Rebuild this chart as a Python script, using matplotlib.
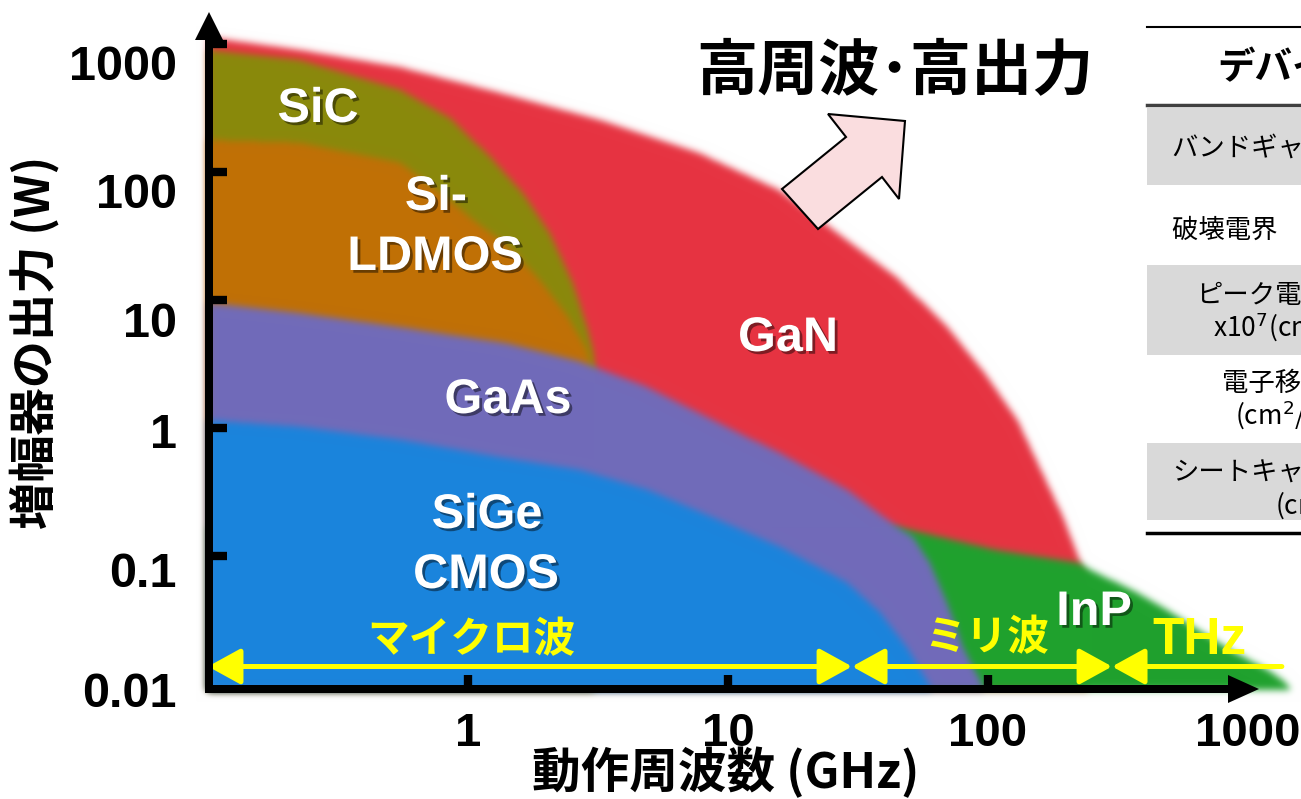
import numpy as np
import matplotlib
matplotlib.use("Agg")
import matplotlib.pyplot as plt
from matplotlib.patches import Polygon, Rectangle
from matplotlib.lines import Line2D
import matplotlib.patheffects as pe

# ---------------------------------------------------------------
# Upper boundary of each device technology (frequency GHz, power W)
# ---------------------------------------------------------------
gan_freq = [0.1, 0.226, 0.548, 1.33, 3.22, 7.8, 15.8, 24.7, 44.7, 69.6, 97, 130, 160, 195, 225, 243]
gan_power = [1130, 900, 660, 415, 255, 140, 72, 37, 15, 6.2, 2.7, 1.15, 0.47, 0.2, 0.093, 0.055]

inp_freq = [40, 44.7, 108, 226, 247, 361, 488, 654, 876, 1183, 1364, 1450]
inp_power = [0.17, 0.169, 0.111, 0.088, 0.078, 0.054, 0.038, 0.026, 0.018, 0.013, 0.0107, 0.0093]

sic_freq = [0.1, 0.226, 0.548, 0.853, 1.22, 1.63, 2.07, 2.53, 2.87, 3.03, 3.1]
sic_power = [900, 750, 440, 264, 131, 68, 33, 13.6, 6.2, 4.0, 2.5]

ldmos_freq = [0.1, 0.226, 0.548, 0.78, 1.05, 1.41, 1.89, 2.4, 2.87, 3.0]
ldmos_power = [178, 169, 118, 70, 42, 27, 14.3, 7.6, 4.1, 2.8]

gaas_freq = [0.1, 0.226, 0.548, 0.78, 1.41, 2.7, 4.88, 8.76, 15.8, 28.7, 44.7, 51.5, 59.8, 69.6, 80.1, 93.1, 97]
gaas_power = [9.5, 7.9, 6.15, 5.5, 4.6, 3.3, 2.1, 1.15, 0.64, 0.33, 0.169, 0.141, 0.088, 0.043, 0.0195, 0.0107, 0.009]

sige_freq = [0.1, 0.226, 0.548, 1.33, 2.7, 4.88, 8.76, 15.8, 28.7, 38.5, 48.6, 58.1, 61]
sige_power = [1.15, 1.02, 0.81, 0.59, 0.47, 0.33, 0.2, 0.118, 0.062, 0.036, 0.0195, 0.0107, 0.009]

floor_power = 0.009

# Frequency bands along the bottom
band_edges = [0.1, 30, 300, 1350]
band_names = ["マイクロ波", "ミリ波", "THz"]
band_level = 0.0137

# Axis ticks
y_tick_values = [0.01, 0.1, 1, 10, 100, 1000]
y_tick_labels = ["0.01", "0.1", "1", "10", "100", "1000"]
x_tick_values = [1, 10, 100, 1000]
x_tick_labels = ["1", "10", "100", "1000"]

# Table (cut at the right edge)
table_header = "デバイス材料"
table_rows = ["バンドギャップ (eV)", "破壊電界　(MV/cm)", "ピーク電子速度", "x10$^7$(cm/s)",
              "電子移動度", "(cm$^2$/Vs)", "シートキャリア密度", "(cm$^{-2}$)"]

# ---------------------------------------------------------------
W, H = 1301, 799
CJK = ["Noto Sans CJK JP", "DejaVu Sans"]
LAT = ["Liberation Sans", "DejaVu Sans"]

# log10 limits so that one decade is 260 px horizontally, 128 px vertically
LX0, LX1 = -468 / 260, (W - 468) / 260
LY0, LY1 = (428 - H) / 128, 428 / 128


def fp(px, py):
    return (px / W, 1 - py / H)


fig = plt.figure(figsize=(W / 100, H / 100), dpi=100)
fig.patch.set_facecolor("white")

# ---- soft-edged coloured regions, rendered on a log-space grid ----
ax_img = fig.add_axes([0, 0, 1, 1], zorder=0)
ax_img.set_xlim(LX0, LX1)
ax_img.set_ylim(LY0, LY1)
ax_img.axis("off")

xs = LX0 + (np.arange(W) + 0.5) / W * (LX1 - LX0)
ys = LY0 + (np.arange(H) + 0.5) / H * (LY1 - LY0)
X, Y = np.meshgrid(xs, ys)


def blur(a, sigma):
    r = int(3 * sigma) + 1
    k = np.exp(-0.5 * (np.arange(-r, r + 1) / sigma) ** 2)
    k /= k.sum()
    a = np.apply_along_axis(lambda v: np.convolve(v, k, mode="same"), 1, a)
    a = np.apply_along_axis(lambda v: np.convolve(v, k, mode="same"), 0, a)
    return a


layers = [
    (gan_freq, gan_power, (230, 52, 66)),
    (inp_freq, inp_power, (32, 161, 46)),
    (sic_freq, sic_power, (138, 137, 12)),
    (ldmos_freq, ldmos_power, (192, 112, 6)),
    (gaas_freq, gaas_power, (113, 107, 185)),
    (sige_freq, sige_power, (27, 132, 220)),
]

canvas = np.ones((H, W, 3))
for fq, pw, col in layers:
    lf = np.log10(fq)
    lp = np.log10(pw)
    top = np.interp(X, lf, lp)
    mask = ((X >= -1.0) & (X <= lf[-1]) & (Y <= top) & (Y >= np.log10(floor_power))).astype(float)
    a = blur(mask, 3.5)[..., None]
    canvas = canvas * (1 - a) + (np.array(col) / 255.0) * a

ax_img.imshow(canvas, extent=(LX0, LX1, LY0, LY1), origin="lower", aspect="auto",
              interpolation="bilinear")

# ---- main log-log axes ----
ax = fig.add_axes([0, 0, 1, 1], zorder=1)
ax.patch.set_alpha(0)
ax.set_xscale("log")
ax.set_yscale("log")
ax.set_xlim(10 ** LX0, 10 ** LX1)
ax.set_ylim(10 ** LY0, 10 ** LY1)
for s in ax.spines.values():
    s.set_visible(False)
ax.spines["left"].set_position(("axes", 209 / W))
ax.spines["bottom"].set_position(("axes", 1 - 689 / H))
ax.set_yticks(y_tick_values[1:])
ax.set_xticks(x_tick_values[:-1])
ax.minorticks_off()
ax.tick_params(axis="y", direction="in", length=13, width=6, color="black",
               labelleft=False, right=False)
ax.tick_params(axis="x", direction="in", length=10, width=6, color="black",
               labelbottom=False, top=False)

# axis lines with arrow heads
lw_axis = 8 * 0.72
fig.add_artist(Line2D([209 / W, 209 / W], [1 - 693 / H, 1 - 36 / H], lw=lw_axis,
                      color="black", transform=fig.transFigure, solid_capstyle="butt"))
fig.add_artist(Line2D([205 / W, 1232 / W], [1 - 689 / H, 1 - 689 / H], lw=lw_axis,
                      color="black", transform=fig.transFigure, solid_capstyle="butt"))
fig.add_artist(Polygon([fp(195, 40), fp(223, 40), fp(209, 12)], closed=True,
                       fc="black", ec="none", transform=fig.transFigure))
fig.add_artist(Polygon([fp(1228, 675), fp(1228, 703), fp(1259, 689)], closed=True,
                       fc="black", ec="none", transform=fig.transFigure))

# tick labels
y_label_drop = [23, 31, 20, 37, 36, 36]
for v, lab, d in zip(y_tick_values, y_tick_labels, y_label_drop):
    ax.annotate(lab, xy=(177 / W, v), xycoords=("figure fraction", "data"),
                xytext=(0, -d), textcoords="offset pixels", ha="right", va="baseline",
                fontsize=35, fontweight="bold", family=LAT, annotation_clip=False)
for v, lab in zip(x_tick_values, x_tick_labels):
    ax.annotate(lab, xy=(v, 1 - 746 / H), xycoords=("data", "figure fraction"),
                ha="center", va="baseline", fontsize=34, fontweight="bold",
                family=LAT, annotation_clip=False)

# axis titles
fig.text(35 / W, 1 - 342 / H, "増幅器の出力 (W)", rotation=90, ha="center", va="center",
         fontsize=34, fontweight="bold", family=CJK)
fig.text(726 / W, 1 - 772 / H, "動作周波数 (GHz)", ha="center", va="center",
         fontsize=35, fontweight="bold", family=CJK)

# frequency band arrows
yellow = "#FFFF00"
for i in range(len(band_names)):
    style = "<|-|>,head_length=1.0,head_width=0.55" if i < 2 else "<|-,head_length=1.0,head_width=0.55"
    ax.annotate("", xy=(band_edges[i + 1], band_level), xytext=(band_edges[i], band_level),
                arrowprops=dict(arrowstyle=style, color=yellow, lw=3.6, mutation_scale=20,
                                shrinkA=0, shrinkB=0), annotation_clip=False)
band_label_px = [(471, 640), (987, 638), (1199, 640)]
for name, (px, py) in zip(band_names, band_label_px):
    fam = CJK if name != "THz" else LAT
    size = 30 if name != "THz" else 37
    fig.text(px / W, 1 - py / H, name, ha="center", va="center", color=yellow,
             fontsize=size, fontweight="bold", family=fam)

# material labels
shadow = [pe.withSimplePatchShadow(offset=(2, -2), shadow_rgbFace="black", alpha=0.45)]
material_labels = [("SiC", 318, 122), ("Si-", 436, 210), ("LDMOS", 435, 270),
                   ("GaN", 788, 351), ("GaAs", 508, 413), ("SiGe", 487, 528),
                   ("CMOS", 486, 588), ("InP", 1094, 625)]
for lab, px, py in material_labels:
    fig.text(px / W, 1 - py / H, lab, ha="center", va="baseline", color="white",
             fontsize=35, fontweight="bold", family=LAT, path_effects=shadow)

# title and direction arrow
fig.text(895 / W, 1 - 71 / H, "高周波･高出力", ha="center", va="center",
         fontsize=44, fontweight="bold", family=CJK)
arrow_pts = [(828, 114), (905, 121), (899, 199), (882, 177), (818, 229), (782, 189), (846, 137)]
fig.add_artist(Polygon([fp(*p) for p in arrow_pts], closed=True, fc="#FADDDF",
                       ec="black", lw=1.5, transform=fig.transFigure))

# property table on the right
for y0, y1 in [(108, 185), (265, 355), (443, 520)]:
    fig.add_artist(Rectangle(fp(1147, y1), (W - 1147) / W, (y1 - y0) / H,
                             fc="#D9D9D9", ec="none", transform=fig.transFigure))
for py, lw, col in [(27, 1.5, "black"), (105, 2.5, "#404040"), (533, 2.5, "black")]:
    fig.add_artist(Line2D([1147 / W, 1.0], [1 - py / H, 1 - py / H], lw=lw, color=col,
                          transform=fig.transFigure))
fig.text(1217 / W, 1 - 67 / H, table_header, ha="left", va="center",
         fontsize=27, fontweight="bold", family=CJK)
row_pos = [(1172, 148), (1172, 230), (1196, 295), (1213, 327),
           (1222, 383), (1235, 415), (1172, 472), (1275, 505)]
for txt, (px, py) in zip(table_rows, row_pos):
    fig.text(px / W, 1 - py / H, txt, ha="left", va="center", fontsize=19, family=CJK)

fig.savefig("out.png", dpi=100)
